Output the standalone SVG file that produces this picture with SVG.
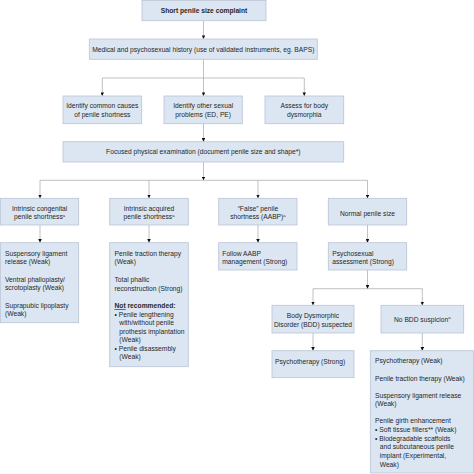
<svg xmlns="http://www.w3.org/2000/svg" width="474" height="474" viewBox="0 0 474 474">
<style>
.box{fill:#dce6f2;stroke:#b8c4d4;stroke-width:0.8}
.t{font-family:"Liberation Sans",Arial,sans-serif;font-size:6.7px;fill:#262626}
.c{text-anchor:middle}
.b{font-weight:bold}
.ln{stroke:#a6a6a6;stroke-width:0.7;fill:none}
.sup{font-size:4.2px}
</style>
<defs>
<marker id="ah" viewBox="0 0 6 6" refX="6" refY="3" markerWidth="3.6" markerHeight="3.6" markerUnits="userSpaceOnUse" orient="auto">
<path d="M0,0 L6,3 L0,6 z" fill="#111"/>
</marker>
</defs>
<rect width="474" height="474" fill="#fff"/>
<g id="connectors">
<path class="ln" d="M203.5,20.7 V39" marker-end="url(#ah)"/>
<path class="ln" d="M203.5,59.3 V96" marker-end="url(#ah)"/>
<path class="ln" d="M203.5,78 H102.3 V96" marker-end="url(#ah)"/>
<path class="ln" d="M203.5,78 H304.3 V96" marker-end="url(#ah)"/>
<path class="ln" d="M203.5,123.7 V141.7" marker-end="url(#ah)"/>
<path class="ln" d="M203.5,162 V180.3" marker-end="url(#ah)"/>
<path class="ln" d="M203.5,180.3 H40 V198.3" marker-end="url(#ah)"/>
<path class="ln" d="M203.5,180.3 H367.5 V198.3" marker-end="url(#ah)"/>
<path class="ln" d="M149,180.3 V198.3" marker-end="url(#ah)"/>
<path class="ln" d="M258,180.3 V198.3" marker-end="url(#ah)"/>
<path class="ln" d="M40,225 V242.7" marker-end="url(#ah)"/>
<path class="ln" d="M149,225 V242.7" marker-end="url(#ah)"/>
<path class="ln" d="M258,225 V242.7" marker-end="url(#ah)"/>
<path class="ln" d="M367.5,225 V242.7" marker-end="url(#ah)"/>
<path class="ln" d="M367.5,270 V288.7" marker-end="url(#ah)"/>
<path class="ln" d="M367.5,288.7 H313 V305.3" marker-end="url(#ah)"/>
<path class="ln" d="M367.5,288.7 H422.3 V305.3" marker-end="url(#ah)"/>
<path class="ln" d="M313,333 V350.7" marker-end="url(#ah)"/>
<path class="ln" d="M422.3,333 V350.7" marker-end="url(#ah)"/>
</g>
<g id="n-complaint">
<rect class="box" x="142" y="0.4" width="124" height="20.3"/>
<text class="t c b" x="204" y="12.6" font-size="6.4">Short penile size complaint</text>
</g>
<g id="n-history">
<rect class="box" x="89.3" y="39" width="228" height="20.3"/>
<text class="t c" x="203.3" y="52.3">Medical and psychosexual history (use of validated instruments, eg. BAPS)</text>
</g>
<g id="n-causes">
<rect class="box" x="63" y="96" width="78.7" height="27.7"/>
<text class="t c" x="102.3" y="108">Identify common causes</text>
<text class="t c" x="102.3" y="116.6">of penile shortness</text>
</g>
<g id="n-sexual">
<rect class="box" x="164" y="96" width="78.3" height="27.7"/>
<text class="t c" x="203.2" y="108">Identify other sexual</text>
<text class="t c" x="203.2" y="116.6">problems (ED, PE)</text>
</g>
<g id="n-dysmorphia">
<rect class="box" x="265" y="96" width="78.7" height="27.7"/>
<text class="t c" x="304.3" y="108">Assess for body</text>
<text class="t c" x="304.3" y="116.6">dysmorphia</text>
</g>
<g id="n-exam">
<rect class="box" x="63" y="141.7" width="280.7" height="20.3"/>
<text class="t c" x="203.3" y="154.3">Focused physical examination (document penile size and shape*)</text>
</g>
<g id="n-congenital">
<rect class="box" x="0.5" y="198.3" width="78.2" height="26.7"/>
<text class="t c" x="39.6" y="210.6">Intrinsic congenital</text>
<text class="t c" x="39.6" y="219">penile shortness<tspan class="sup" dy="-2.5">a</tspan></text>
</g>
<g id="n-acquired">
<rect class="box" x="109.7" y="198.3" width="78.6" height="26.7"/>
<text class="t c" x="149" y="210.6">Intrinsic acquired</text>
<text class="t c" x="149" y="219">penile shortness<tspan class="sup" dy="-2.5">a</tspan></text>
</g>
<g id="n-false">
<rect class="box" x="218.7" y="198.3" width="78.3" height="26.7"/>
<text class="t c" x="257.9" y="210.6">“False” penile</text>
<text class="t c" x="257.9" y="219">shortness (AABP)<tspan class="sup" dy="-2.5">a</tspan></text>
</g>
<g id="n-normal">
<rect class="box" x="328.3" y="198.3" width="78.4" height="26.7"/>
<text class="t c" x="367.5" y="215.6">Normal penile size</text>
</g>
<g id="n-congenital-tx">
<rect class="box" x="0.5" y="242.7" width="78.2" height="80"/>
<text class="t" x="5" y="255.6">Suspensory ligament</text>
<text class="t" x="5" y="264">release (Weak)</text>
<text class="t" x="5" y="281.6">Ventral phalloplasty/</text>
<text class="t" x="5" y="290.3">scrotoplasty (Weak)</text>
<text class="t" x="5" y="307.6">Suprapubic lipoplasty</text>
<text class="t" x="5" y="316">(Weak)</text>
</g>
<g id="n-acquired-tx">
<rect class="box" x="109.7" y="242.7" width="78.6" height="124"/>
<text class="t" x="114.5" y="255.6">Penile traction therapy</text>
<text class="t" x="114.5" y="264">(Weak)</text>
<text class="t" x="114.5" y="281.6">Total phallic</text>
<text class="t" x="114.5" y="290.6">reconstruction (Strong)</text>
<text class="t b" x="114.5" y="308.3"><tspan text-decoration="underline">Not</tspan> recommended:</text>
<text class="t" x="114.5" y="316.6">• Penile lengthening</text>
<text class="t" x="119.3" y="325">with/without penile</text>
<text class="t" x="119.3" y="333.6">prothesis implantation</text>
<text class="t" x="119.3" y="342.3">(Weak)</text>
<text class="t" x="114.5" y="351">• Penile disassembly</text>
<text class="t" x="119.3" y="359.3">(Weak)</text>
</g>
<g id="n-aabp">
<rect class="box" x="218.7" y="242.7" width="78.3" height="27.3"/>
<text class="t" x="222.3" y="255.6">Follow AABP</text>
<text class="t" x="222.3" y="264">management (Strong)</text>
</g>
<g id="n-psychosexual">
<rect class="box" x="328.3" y="242.7" width="78.4" height="27.3"/>
<text class="t" x="332.3" y="255.6">Psychosexual</text>
<text class="t" x="332.3" y="264">assessment (Strong)</text>
</g>
<g id="n-bdd">
<rect class="box" x="272" y="305.3" width="82" height="27.7"/>
<text class="t c" x="313" y="318.3">Body Dysmorphic</text>
<text class="t c" x="313" y="327.3">Disorder (BDD) suspected</text>
</g>
<g id="n-nobdd">
<rect class="box" x="381" y="305.3" width="82.7" height="27.7"/>
<text class="t c" x="422.3" y="321.6">No BDD suspicion<tspan class="sup" dy="-2.5">a</tspan></text>
</g>
<g id="n-bdd-tx">
<rect class="box" x="272" y="350.7" width="82" height="27"/>
<text class="t" x="275" y="364">Psychotherapy (Strong)</text>
</g>
<g id="n-nobdd-tx">
<rect class="box" x="370.3" y="350.7" width="103.2" height="122.3"/>
<text class="t" x="375" y="363.3">Psychotherapy (Weak)</text>
<text class="t" x="375" y="380.6">Penile traction therapy (Weak)</text>
<text class="t" x="375" y="397.6">Suspensory ligament release</text>
<text class="t" x="375" y="406.3">(Weak)</text>
<text class="t" x="375" y="423.3">Penile girth enhancement</text>
<text class="t" x="375" y="432">• Soft tissue fillers** (Weak)</text>
<text class="t" x="375" y="440.6">• Biodegradable scaffolds</text>
<text class="t" x="379.7" y="449.3">and subcutaneous penile</text>
<text class="t" x="379.7" y="458">implant (Experimental,</text>
<text class="t" x="379.7" y="466.6">Weak)</text>
</g>
</svg>
